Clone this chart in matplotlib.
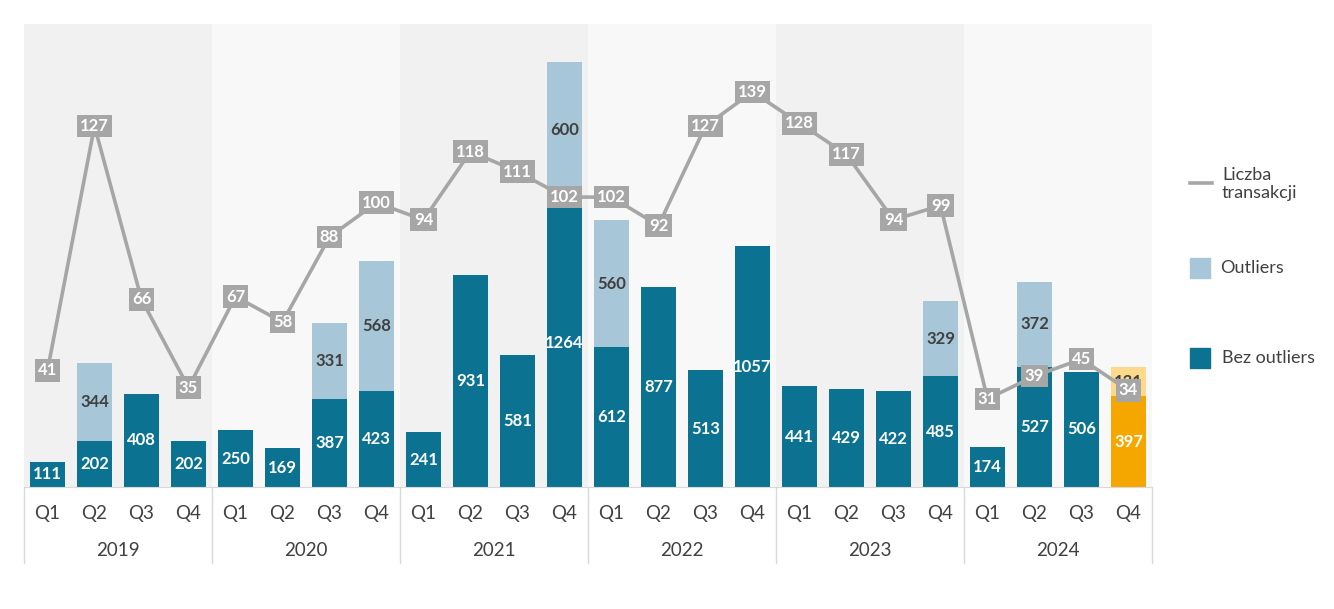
import numpy as np
import matplotlib.pyplot as plt
from matplotlib.patches import Rectangle
from matplotlib.lines import Line2D
from matplotlib.transforms import blended_transform_factory

plt.rcParams['font.family'] = ['Lato', 'DejaVu Sans']

# data
years = ['2019', '2020', '2021', '2022', '2023', '2024']
quarters = ['Q1', 'Q2', 'Q3', 'Q4']
bez_outliers = [111, 202, 408, 202,
                250, 169, 387, 423,
                241, 931, 581, 1264,
                612, 877, 513, 1057,
                441, 429, 422, 485,
                174, 527, 506, 397]
outliers = [0, 344, 0, 0,
            0, 0, 331, 568,
            0, 0, 0, 600,
            560, 0, 0, 0,
            0, 0, 0, 329,
            0, 372, 0, 131]
transakcje = [41, 127, 66, 35,
              67, 58, 88, 100,
              94, 118, 111, 102,
              102, 92, 127, 139,
              128, 117, 94, 99,
              31, 39, 45, 34]

c_dark = '#0c7291'
c_light = '#a7c6d8'
c_orange = '#f5a700'
c_orange_l = '#fdd98c'
c_line = '#a6a6a6'
c_text = '#404040'

W, H = 1334, 609
fig = plt.figure(figsize=(W / 100, H / 100), dpi=100)
ax = fig.add_axes([24 / W, 1 - 487 / H, 1128 / W, 463 / H])
ax2 = ax.twinx()

n = len(bez_outliers)
x = np.arange(n)

# year bands
for i in range(len(years)):
    ax.axvspan(i * 4 - 0.5, i * 4 + 3.5, color='#f1f1f1' if i % 2 == 0 else '#f8f8f8', zorder=0, lw=0)

cols_b = [c_dark] * (n - 1) + [c_orange]
cols_o = [c_light] * (n - 1) + [c_orange_l]
ax.bar(x, bez_outliers, width=0.74, color=cols_b, zorder=2)
ax.bar(x, outliers, width=0.74, bottom=bez_outliers, color=cols_o, zorder=2)

for i in range(n):
    ax.text(x[i], bez_outliers[i] / 2, str(bez_outliers[i]), ha='center', va='center',
            color='white', fontsize=12, fontweight='bold', zorder=3)
    if outliers[i] > 0:
        ax.text(x[i], bez_outliers[i] + outliers[i] / 2, str(outliers[i]), ha='center', va='center',
                color=c_text, fontsize=12, fontweight='bold', zorder=3)

ax.set_xlim(-0.5, n - 0.5)
ax.set_ylim(0, 2031)
ax.set_yticks([])
ax.set_xticks([])
for s in ['top', 'right', 'left']:
    ax.spines[s].set_visible(False)
ax.spines['bottom'].set_color('#d9d9d9')

# line on secondary axis
ax2.plot(x, transakcje, color=c_line, lw=2.6, zorder=4)
for i in range(n):
    ax2.text(x[i], transakcje[i], str(transakcje[i]), ha='center', va='center', color='white',
             fontsize=12, fontweight='bold', zorder=5,
             bbox=dict(boxstyle='square,pad=0.2', fc=c_line, ec='none'))
ax2.set_ylim(0, 162.9)
ax2.set_yticks([])
for s in ['top', 'right', 'left', 'bottom']:
    ax2.spines[s].set_visible(False)
ax.set_zorder(1)
ax2.set_zorder(2)

# category axis
tr = blended_transform_factory(ax.transData, ax.transAxes)
for i in range(n):
    ax.text(x[i], -26 / 463, quarters[i % 4], transform=tr, ha='center', va='center',
            fontsize=13.5, color=c_text, clip_on=False)
for i, y in enumerate(years):
    ax.text(i * 4 + 1.5, -63 / 463, y, transform=tr, ha='center', va='center',
            fontsize=13.5, color=c_text, clip_on=False)
for k in range(len(years) + 1):
    ax.plot([k * 4 - 0.5, k * 4 - 0.5], [0, -76 / 463], transform=tr, color='#d9d9d9',
            lw=1, clip_on=False)

# legend
ft = fig.transFigure
fig.add_artist(Line2D([1190 / W, 1212 / W], [1 - 183 / H, 1 - 183 / H], color=c_line, lw=2.6, transform=ft))
fig.text(1222 / W, 1 - 184 / H, 'Liczba\ntransakcji', fontsize=13, color=c_text, va='center', ha='left',
         linespacing=1.15)
fig.add_artist(Rectangle((1190 / W, 1 - 278 / H), 20 / W, 20 / H, color=c_light, transform=ft))
fig.text(1220 / W, 1 - 268 / H, 'Outliers', fontsize=13, color=c_text, va='center', ha='left')
fig.add_artist(Rectangle((1190 / W, 1 - 368 / H), 20 / W, 20 / H, color=c_dark, transform=ft))
fig.text(1222 / W, 1 - 358 / H, 'Bez outliers', fontsize=13, color=c_text, va='center', ha='left')

plt.savefig('out.png', dpi=100)
